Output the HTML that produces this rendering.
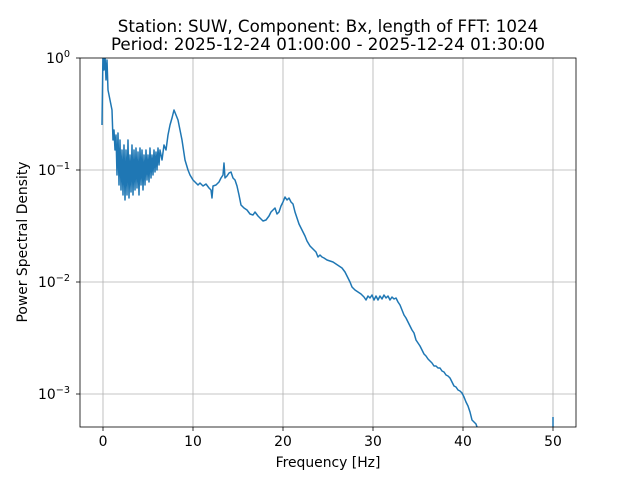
<!DOCTYPE html>
<html><head><style>
body{margin:0;background:#fff;}
svg{display:block;font-family:"DejaVu Sans","Liberation Sans",sans-serif;}
</style></head><body>
<svg width="640" height="480" viewBox="0 0 640 480" xmlns="http://www.w3.org/2000/svg">
<rect width="640" height="480" fill="#fff"/>
<g stroke="#b0b0b0" stroke-width="0.8">
<line x1="103" y1="58" x2="103" y2="427"/>
<line x1="193" y1="58" x2="193" y2="427"/>
<line x1="283" y1="58" x2="283" y2="427"/>
<line x1="373" y1="58" x2="373" y2="427"/>
<line x1="463" y1="58" x2="463" y2="427"/>
<line x1="553" y1="58" x2="553" y2="427"/>
<line x1="80" y1="170" x2="576" y2="170"/>
<line x1="80" y1="282" x2="576" y2="282"/>
<line x1="80" y1="394" x2="576" y2="394"/>
</g>
<svg x="80" y="58" width="496" height="369" viewBox="80 58 496 369" overflow="hidden">
<polyline fill="none" stroke="#1f77b4" stroke-width="1.5" stroke-linejoin="round" points="
102,125 103,50 104,70 105,55 106,80 107,60 108,90 110,100 112,110 113,140 114,130 115,150 116,135 117,175 118,133 119,185 120,140 121,190 122,150 123,195 124,145 125,200 126,150 127,195 128,140 129,198 130,155 131,192 132,145 133,195 134,150 135,190 136,148 137,188 138,152 139,195 140,148 141,185 142,150 143,190 144,155 145,185 146,150 147,180 148,155 149,182 150,148 151,178 152,155 153,175 154,150 155,172 156,152 157,170 158,148 159,165 160,150 162,160 164,145 166,150 168,135 170,125 172,118 174,110 176,115 178,120 180,130 182,140 185,160 188,170 190,175 193,180 195,182 198,185 200,183 203,186 206,184 209,188 211,190 212,198 213,186 216,185 219,182 221,178 223,175 224,163 225,178 227,176 229,173 231,172 233,178 235,180 237,186 239,195 241,205 244,208 247,210 250,214 253,215 255,212 258,216 260,218 263,221 266,220 269,216 271,212 273,210 275,208 277,214 279,212 281,206 283,202 285,197 287,200 289,198 291,202 293,204 295,212 297,218 299,224 301,228 303,232 305,236 307,241 310,246 313,249 316,252 318,257 320,255 322,257 324,258 327,260 330,261 333,262 336,264 339,266 342,268 345,272 348,278 350,282 352,287 355,290 358,292 361,294 364,297 366,300 368,296 370,298 372,295 374,300 376,296 378,300 380,296 382,299 384,295 386,298 388,296 390,300 392,297 394,299 396,298 398,302 400,305 402,310 404,315 406,318 408,322 410,326 412,330 414,333 416,340 418,343 420,346 422,350 424,354 426,356 428,359 430,361 432,363 434,366 436,366 438,368 440,368 442,371 444,372 446,375 448,376 450,378 452,382 454,386 456,387 458,390 460,391 462,393 464,397 466,402 468,406 470,412 472,420 474,422 476,424 478,430"/>
<polyline fill="none" stroke="#1f77b4" stroke-width="1.5" points="553,430 553,417"/>
</svg>
<rect x="80" y="58" width="496" height="369" fill="none" stroke="#000" stroke-width="0.8"/>
<g stroke="#000" stroke-width="0.8">
<line x1="103" y1="427" x2="103" y2="431"/><line x1="193" y1="427" x2="193" y2="431"/>
<line x1="283" y1="427" x2="283" y2="431"/><line x1="373" y1="427" x2="373" y2="431"/>
<line x1="463" y1="427" x2="463" y2="431"/><line x1="553" y1="427" x2="553" y2="431"/>
<line x1="76" y1="58" x2="80" y2="58"/><line x1="76" y1="170" x2="80" y2="170"/>
<line x1="76" y1="282" x2="80" y2="282"/><line x1="76" y1="394" x2="80" y2="394"/>
</g>
<g font-size="13.9" fill="#000" text-anchor="middle">
<text x="103" y="446">0</text><text x="193" y="446">10</text><text x="283" y="446">20</text>
<text x="373" y="446">30</text><text x="463" y="446">40</text><text x="553" y="446">50</text>
</g>
<g font-size="13.9" fill="#000" text-anchor="end">
<text x="70" y="63">10<tspan font-size="9.7" dy="-6">0</tspan></text>
<text x="70" y="175">10<tspan font-size="9.7" dy="-6">−1</tspan></text>
<text x="70" y="287">10<tspan font-size="9.7" dy="-6">−2</tspan></text>
<text x="70" y="399">10<tspan font-size="9.7" dy="-6">−3</tspan></text>
</g>
<text x="328" y="467" font-size="13.9" text-anchor="middle">Frequency [Hz]</text>
<text transform="translate(27,242) rotate(-90)" font-size="13.9" text-anchor="middle">Power Spectral Density</text>
<text x="328" y="32" font-size="16.7" text-anchor="middle">Station: SUW, Component: Bx, length of FFT: 1024</text>
<text x="328" y="50" font-size="16.7" text-anchor="middle">Period: 2025-12-24 01:00:00 - 2025-12-24 01:30:00</text>
</svg>
</body></html>
